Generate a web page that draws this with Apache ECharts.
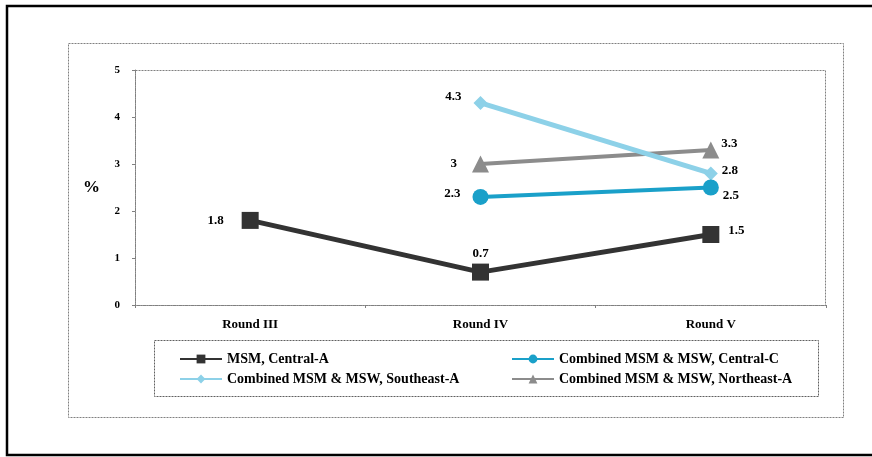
<!DOCTYPE html>
<html>
<head>
<meta charset="utf-8">
<script src="https://cdn.jsdelivr.net/npm/echarts@6/dist/echarts.min.js"></script>
<style>
  html, body { margin: 0; padding: 0; background: #fff; }
  #chart { width: 872px; height: 457px; }
</style>
</head>
<body>
<div id="chart"></div>
<script>
// Survey rounds on the category axis
const categories = ['Round III', 'Round IV', 'Round V'];

// Prevalence (%) per group and round; '-' marks a round with no survey
const msmCentralA = [1.8, 0.7, 1.5];
const combinedCentralC = ['-', 2.3, 2.5];
const combinedSoutheastA = ['-', 4.3, 2.8];
const combinedNortheastA = ['-', 3, 3.3];

// Legend / series names
const seriesNames = [
  'MSM, Central-A',
  'Combined MSM & MSW, Central-C',
  'Combined MSM & MSW, Southeast-A',
  'Combined MSM & MSW, Northeast-A'
];

const SERIF = '"Liberation Serif", "DejaVu Serif", serif';

// Per-point label placement: [position, distance, offset]
function withLabels(values, placement) {
  return values.map(function (v, i) {
    if (v === '-') return '-';
    const p = placement[i];
    return {
      value: v,
      label: { position: p[0], distance: p[1], offset: p[2] || [0, 0] }
    };
  });
}

const labelStyle = {
  show: true,
  color: '#000',
  fontFamily: SERIF,
  fontWeight: 'bold',
  fontSize: 13
};

const legendText = { color: '#000', fontFamily: SERIF, fontWeight: 'bold', fontSize: 14 };

const chart = echarts.init(document.getElementById('chart'), null, { renderer: 'canvas' });

const option = {
  animation: false,
  backgroundColor: '#fff',
  grid: { left: 135, right: 46, top: 70, bottom: 152 },
  graphic: [
    // outer frame (its right side runs past the canvas edge)
    { type: 'rect', silent: true, z: -1,
      shape: { x: 7, y: 6, width: 880, height: 449 },
      style: { fill: 'none', stroke: '#000', lineWidth: 2.5 } },
    // chart area frame
    { type: 'rect', silent: true, z: -1,
      shape: { x: 68.5, y: 43.5, width: 775, height: 374 },
      style: { fill: 'none', stroke: '#808080', lineWidth: 1, lineDash: [2, 1] } },
    // plot area frame
    { type: 'rect', silent: true, z: -1,
      shape: { x: 135.5, y: 70.5, width: 690, height: 235 },
      style: { fill: 'none', stroke: '#808080', lineWidth: 1, lineDash: [2, 1] } },
    // legend frame
    { type: 'rect', silent: true, z: -1,
      shape: { x: 154.5, y: 340.5, width: 664, height: 56 },
      style: { fill: 'none', stroke: '#606060', lineWidth: 1, lineDash: [2, 1] } }
  ],
  legend: [
    {
      data: [seriesNames[0], seriesNames[2]],
      orient: 'vertical',
      left: 174, top: 347,
      itemWidth: 42, itemHeight: 11, itemGap: 6,
      textStyle: legendText
    },
    {
      data: [seriesNames[1], seriesNames[3]],
      orient: 'vertical',
      left: 506, top: 347,
      itemWidth: 42, itemHeight: 11, itemGap: 6,
      textStyle: legendText
    }
  ],
  xAxis: {
    type: 'category',
    data: categories,
    boundaryGap: true,
    axisLine: { show: true, lineStyle: { color: '#808080', type: 'dotted', width: 1 } },
    axisTick: { show: true, length: 3, inside: false, lineStyle: { color: '#808080' } },
    axisLabel: { margin: 13, color: '#000', fontFamily: SERIF, fontWeight: 'bold', fontSize: 13 },
    splitLine: { show: false }
  },
  yAxis: {
    type: 'value',
    min: 0, max: 5, interval: 1,
    name: '%',
    nameLocation: 'middle',
    nameRotate: 0,
    nameGap: 35,
    nameTextStyle: { color: '#000', fontFamily: SERIF, fontWeight: 'bold', fontSize: 17 },
    axisLine: { show: true, lineStyle: { color: '#808080', type: 'dotted', width: 1 } },
    axisTick: { show: true, length: 3, lineStyle: { color: '#808080' } },
    axisLabel: { margin: 15, color: '#000', fontFamily: SERIF, fontWeight: 'bold', fontSize: 11 },
    splitLine: { show: false }
  },
  series: [
    {
      name: seriesNames[3],
      type: 'line',
      z: 2,
      data: withLabels(combinedNortheastA, [null, ['left', 15], ['right', 2, [0, -6]]]),
      symbol: 'triangle', symbolSize: 17,
      lineStyle: { color: '#8c8c8c', width: 4 },
      itemStyle: { color: '#8c8c8c' },
      label: labelStyle
    },
    {
      name: seriesNames[2],
      type: 'line',
      z: 3,
      data: withLabels(combinedSoutheastA, [null, ['left', 12, [0, -6]], ['right', 4, [0, -3]]]),
      symbol: 'diamond', symbolSize: 14,
      lineStyle: { color: '#8dd1e8', width: 5 },
      itemStyle: { color: '#8dd1e8' },
      label: labelStyle
    },
    {
      name: seriesNames[1],
      type: 'line',
      z: 4,
      data: withLabels(combinedCentralC, [null, ['left', 12, [0, -3]], ['right', 4, [0, 8]]]),
      symbol: 'circle', symbolSize: 16,
      lineStyle: { color: '#1aa0c9', width: 4 },
      itemStyle: { color: '#1aa0c9' },
      label: labelStyle
    },
    {
      name: seriesNames[0],
      type: 'line',
      z: 5,
      data: withLabels(msmCentralA, [['left', 18], ['top', 3], ['right', 9, [0, -4]]]),
      symbol: 'rect', symbolSize: 17,
      lineStyle: { color: '#333333', width: 5 },
      itemStyle: { color: '#333333' },
      label: labelStyle
    }
  ]
};

chart.setOption(option);
</script>
</body>
</html>
